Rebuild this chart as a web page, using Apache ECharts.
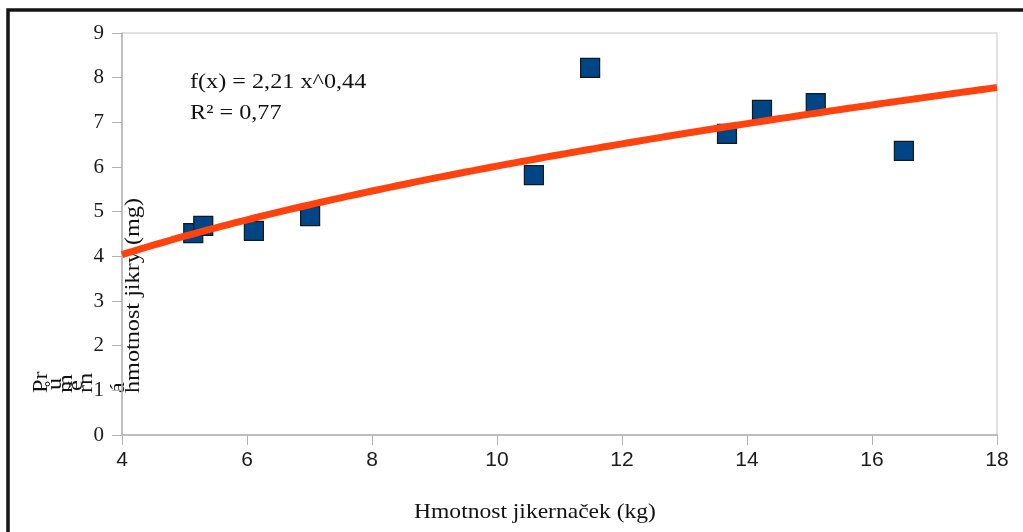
<!DOCTYPE html>
<html>
<head>
<meta charset="utf-8">
<script src="https://cdn.jsdelivr.net/npm/echarts@6/dist/echarts.min.js"></script>
<style>
  html, body { margin: 0; padding: 0; background: #ffffff; }
  #chart { width: 1023px; height: 532px; }
</style>
</head>
<body>
<div id="chart"></div>
<script>
// Weight of female fish (kg) against mean egg weight (mg)
const femaleWeightKg = [5.14, 5.30, 6.11, 7.01, 10.59, 11.49, 13.68, 14.24, 15.10, 16.51];
const eggWeightMg    = [4.52, 4.68, 4.57, 4.90, 5.82, 8.22, 6.74, 7.28, 7.43, 6.36];

// Power trend line f(x) = a * x^b and its goodness of fit
const fitA = 2.206;
const fitB = 0.436;
const rSquared = 0.77;

// Axis ranges
const xMin = 4, xMax = 18, xStep = 2;
const yMin = 0, yMax = 9, yStep = 1;

// Axis titles
const xTitle = 'Hmotnost jikernaček (kg)';
const yTitle = 'Průměrná hmotnost jikry (mg)';

const serif = "'Liberation Serif', 'Times New Roman', serif";
const sans = "'Liberation Sans', Arial, sans-serif";

const points = femaleWeightKg.map((x, i) => [x, eggWeightMg[i]]);

// Sample the trend function across the x range
const trend = [];
for (let i = 0; i <= 140; i++) {
  const x = xMin + (xMax - xMin) * i / 140;
  trend.push([x, fitA * Math.pow(x, fitB)]);
}

const fmt = v => v.toFixed(2).replace('.', ',');
const eqText = 'f(x) = ' + fmt(fitA) + ' x^' + fmt(fitB);
const r2Text = 'R² = ' + fmt(rSquared);

// The y title is laid out as broken rotated fragments
const yTitleParts = [
  { t: yTitle.slice(0, 2), x: 41, y: 393 },   // "Pr"
  { t: yTitle.slice(2, 3), x: 55, y: 390 },   // "ů"
  { t: yTitle.slice(3, 4), x: 66, y: 393 },   // "m"
  { t: yTitle.slice(4, 5), x: 76, y: 391 },   // "ě"
  { t: yTitle.slice(5, 7), x: 86, y: 393 },   // "rn"
  { t: yTitle.slice(7, 8), x: 118, y: 393 },  // "á"
  { t: yTitle.slice(9), x: 133, y: 393 }      // "hmotnost jikry (mg)"
];

const txt = (text, x, y, opts) => Object.assign({
  type: 'text', x: x, y: y, silent: true,
  style: Object.assign({
    text: text, font: '22px ' + serif, fill: '#111111',
    textAlign: 'left', textVerticalAlign: 'middle'
  }, (opts && opts.style) || {})
}, opts && opts.el ? opts.el : {});

const graphics = [
  {
    type: 'rect', silent: true, z: 10,
    shape: { x: 8, y: 10, width: 1100, height: 600 },
    style: { fill: 'none', stroke: '#141414', lineWidth: 3.5 }
  },
  txt(eqText, 190, 82, { el: { scaleX: 1.1 } }),
  txt(r2Text, 190, 113, { el: { scaleX: 1.1 } }),
  txt(xTitle, 535, 512, { style: { textAlign: 'center' }, el: { scaleX: 1.07 } })
];
yTitleParts.forEach(p => {
  graphics.push(txt(p.t, p.x, p.y, { el: { rotation: Math.PI / 2, scaleX: 1.1 } }));
});

const chart = echarts.init(document.getElementById('chart'), null, { renderer: 'canvas' });
chart.setOption({
  animation: false,
  backgroundColor: '#ffffff',
  grid: {
    left: 122, right: 26, top: 33, bottom: 97,
    show: true, borderColor: '#c4c4c4', borderWidth: 1, backgroundColor: 'transparent'
  },
  xAxis: {
    type: 'value', min: xMin, max: xMax, interval: xStep,
    axisLine: { show: true, onZero: false, lineStyle: { color: '#b3b3b3', width: 1.5 } },
    axisTick: { show: true, length: 10, lineStyle: { color: '#b3b3b3', width: 1 } },
    splitLine: { show: false },
    axisLabel: { margin: 15, fontSize: 21, fontFamily: sans, color: '#1a1a1a' }
  },
  yAxis: {
    type: 'value', min: yMin, max: yMax, interval: yStep,
    axisLine: { show: true, onZero: false, lineStyle: { color: '#b3b3b3', width: 1.5 } },
    axisTick: { show: true, length: 10, lineStyle: { color: '#b3b3b3', width: 1 } },
    splitLine: { show: false },
    axisLabel: { margin: 18, fontSize: 21, fontFamily: serif, color: '#1a1a1a' }
  },
  series: [
    {
      type: 'scatter', data: points, symbol: 'rect', symbolSize: 19, z: 2,
      itemStyle: { color: '#004586', opacity: 1, borderColor: '#101820', borderWidth: 1.2 }
    },
    {
      type: 'line', data: trend, showSymbol: false, smooth: false, z: 3,
      lineStyle: { color: '#ff420e', width: 7 }
    }
  ],
  graphic: graphics
});
</script>
</body>
</html>
